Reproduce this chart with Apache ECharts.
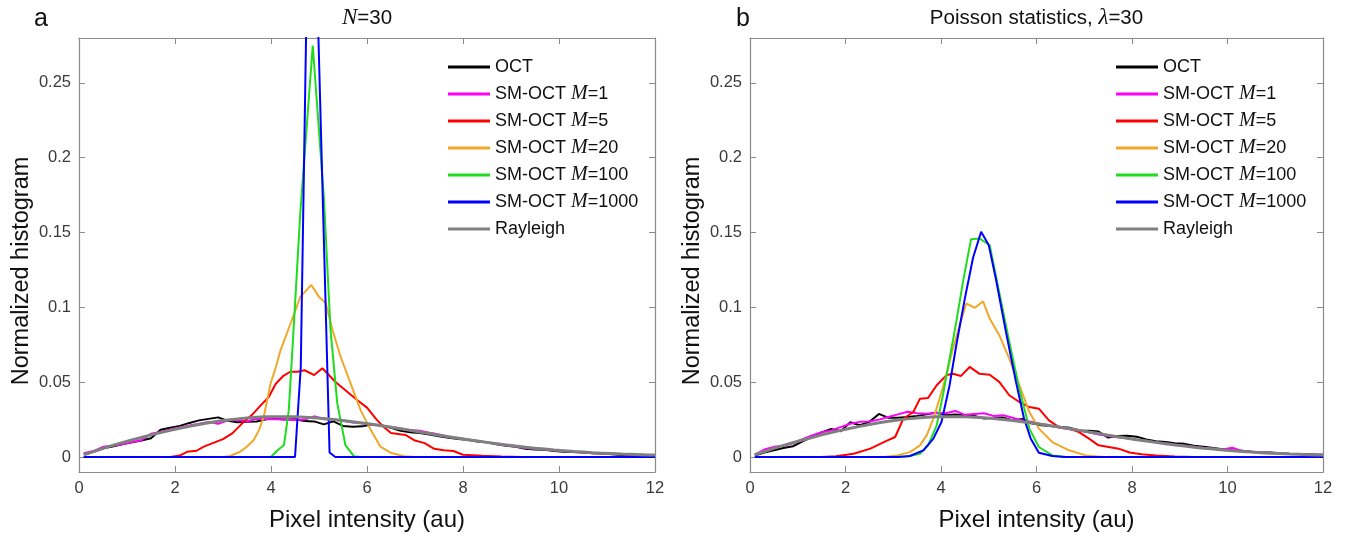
<!DOCTYPE html>
<html><head><meta charset="utf-8">
<script src="https://cdn.jsdelivr.net/npm/echarts@6/dist/echarts.min.js"></script>
<style>html,body{margin:0;padding:0;background:#fff}#c{width:1347px;height:540px}</style>
</head><body><div id="c"></div>
<script>
const seriesNames = ['OCT','SM-OCT M=1','SM-OCT M=5','SM-OCT M=20','SM-OCT M=100','SM-OCT M=1000','Rayleigh'];
const colors = ['#000000','#ff00ff','#ff0000','#f0a82c','#1fdc1f','#0000ff','#808080'];
const yTicks = [0,0.05,0.1,0.15,0.2,0.25];
const panelTitles = ['{i|N}=30', 'Poisson statistics, {i|λ}=30'];
const panelLetters = ['a','b'];
const xAxisTitle = 'Pixel intensity (au)';
const yAxisTitle = 'Normalized histogram';

// shared bin positions for broad curves
const xs = [0.1,0.3,0.5,0.7,0.9,1.1,1.3,1.5,1.7,1.9,2.1,2.3,2.5,2.7,2.9,3.1,3.3,3.5,3.7,3.9,
  4.1,4.3,4.5,4.7,4.9,5.1,5.3,5.5,5.7,5.9,6.1,6.3,6.5,6.7,6.9,7.1,7.3,7.5,7.7,7.9,
  8.1,8.3,8.5,8.7,8.9,9.1,9.3,9.5,9.7,9.9,10.1,10.3,10.5,10.7,10.9,11.1,11.3,11.5,11.7,11.9,12.0];

const rayleigh = [0.0015,0.0036,0.0058,0.0078,0.0096,0.0114,0.0131,0.0148,0.0163,0.0178,
  0.0192,0.0205,0.0218,0.0229,0.0239,0.0248,0.0255,0.0261,0.0266,0.0269,
  0.0270,0.0270,0.0269,0.0266,0.0262,0.0257,0.0251,0.0244,0.0236,0.0228,
  0.0219,0.0209,0.0199,0.0189,0.0178,0.0167,0.0157,0.0146,0.0136,0.0126,
  0.0116,0.0107,0.0098,0.0089,0.0081,0.0073,0.0066,0.0059,0.0053,0.0047,
  0.0042,0.0037,0.0033,0.0029,0.0026,0.0023,0.0020,0.0018,0.0016,0.0014,0.0013];

// Panel a
const aOct = [0.002,0.0035,0.0058,0.007,0.0085,0.0098,0.011,0.0125,0.0182,0.0195,
  0.0208,0.0228,0.0245,0.0255,0.0265,0.0242,0.0232,0.0235,0.0238,0.0252,
  0.0255,0.0250,0.0252,0.0240,0.0238,0.0218,0.0238,0.0208,0.0202,0.0205,
  0.0218,0.0212,0.0195,0.0175,0.0165,0.0160,0.0150,0.0138,0.0128,0.0120,
  0.0115,0.0104,0.0098,0.0085,0.0075,0.0068,0.0055,0.0050,0.0048,0.0040,
  0.0036,0.0034,0.0030,0.0026,0.0024,0.0018,0.0014,0.0016,0.0015,0.0012,0.0012];
const aM1 = [0.0025,0.004,0.0068,0.0075,0.0085,0.0100,0.0112,0.0155,0.0168,0.0185,
  0.0198,0.0210,0.0222,0.0235,0.0222,0.0245,0.0248,0.0238,0.0256,0.0254,
  0.0252,0.0250,0.0248,0.0250,0.0272,0.0252,0.0250,0.0242,0.0230,0.0225,
  0.0215,0.0210,0.0200,0.0190,0.0180,0.0175,0.0162,0.0150,0.0135,0.0128,
  0.0118,0.0108,0.0098,0.0090,0.0080,0.0070,0.0060,0.0055,0.0052,0.0045,
  0.0040,0.0035,0.0030,0.0027,0.0022,0.0024,0.0018,0.0015,0.0014,0.0012,0.0012];
const aM5 = [[0.1,0],[1.9,0],[2.1,0.001],[2.25,0.0035],[2.45,0.0042],[2.6,0.007],[2.8,0.0095],[3.0,0.012],
  [3.2,0.016],[3.4,0.0225],[3.6,0.028],[3.8,0.035],[3.95,0.040],[4.1,0.049],[4.25,0.054],[4.4,0.057],
  [4.55,0.057],[4.7,0.058],[4.9,0.0548],[5.07,0.0593],[5.2,0.055],[5.35,0.050],[5.5,0.046],[5.65,0.042],
  [5.8,0.038],[6.0,0.033],[6.2,0.025],[6.35,0.020],[6.5,0.016],[6.8,0.0148],[7.0,0.011],[7.2,0.0093],
  [7.4,0.0055],[7.6,0.0045],[7.8,0.004],[8.0,0.0015],[8.4,0.0009],[8.8,0.0004],[9.2,0],[12,0]];
const aM20 = [[0.1,0],[3.0,0],[3.15,0.0007],[3.36,0.0036],[3.5,0.007],[3.64,0.0114],[3.75,0.018],[3.85,0.027],
  [3.99,0.049],[4.1,0.06],[4.2,0.0715],[4.41,0.0894],[4.61,0.107],[4.84,0.115],[5.0,0.107],[5.14,0.103],
  [5.28,0.085],[5.45,0.067],[5.66,0.049],[5.87,0.031],[6.08,0.018],[6.28,0.0069],[6.49,0.0029],[6.77,0.0005],
  [7.0,0],[12,0]];
const aM100 = [[0.1,0],[4.0,0],[4.12,0.004],[4.27,0.008],[4.37,0.031],[4.47,0.085],[4.61,0.163],[4.87,0.275],
  [5.1,0.174],[5.24,0.085],[5.38,0.036],[5.55,0.008],[5.73,0.0005],[5.85,0],[12,0]];
const aM1000 = [[0.1,0],[4.5,0],[4.62,0.06],[4.74,0.30],[4.86,0.44],[4.98,0.29],[5.1,0.147],[5.22,0.003],[5.34,0],[12,0]];

// Panel b
const bOct = [0.001,0.003,0.0045,0.006,0.0072,0.0105,0.0135,0.0165,0.0188,0.0172,
  0.0232,0.0212,0.0235,0.0288,0.0262,0.0262,0.0268,0.0275,0.0285,0.0298,
  0.0280,0.0285,0.0280,0.0275,0.0258,0.0262,0.0265,0.0245,0.0255,0.0225,
  0.0212,0.0208,0.0200,0.0195,0.0178,0.0175,0.0170,0.0130,0.0140,0.0142,
  0.0135,0.0118,0.0105,0.0100,0.0092,0.0088,0.0075,0.0068,0.0060,0.0052,
  0.0045,0.0042,0.0036,0.0032,0.0030,0.0025,0.0022,0.0020,0.0018,0.0016,0.0016];
const bM1 = [0.0016,0.005,0.0068,0.0075,0.0092,0.012,0.0145,0.0166,0.0178,0.0200,
  0.0222,0.0235,0.0238,0.0250,0.0268,0.0285,0.0302,0.0292,0.0290,0.0295,
  0.0292,0.0308,0.0282,0.0288,0.0292,0.0275,0.0280,0.0262,0.0245,0.0235,
  0.0220,0.0210,0.0195,0.0185,0.0175,0.0165,0.0150,0.0140,0.0132,0.0125,
  0.0115,0.0108,0.0098,0.0092,0.0082,0.0075,0.0068,0.0060,0.0055,0.0050,
  0.0062,0.0040,0.0035,0.0030,0.0028,0.0024,0.0021,0.0018,0.0017,0.0015,0.0015];
const bM5 = [[0.1,0],[1.5,0],[1.8,0.0005],[2.17,0.0022],[2.52,0.0056],[2.87,0.011],[3.04,0.0134],[3.21,0.0256],
  [3.42,0.0301],[3.56,0.039],[3.73,0.0395],[3.91,0.048],[4.11,0.0546],[4.25,0.0557],[4.42,0.0542],[4.6,0.0602],
  [4.8,0.0557],[5.02,0.055],[5.22,0.0502],[5.43,0.0413],[5.64,0.0368],[5.85,0.0334],[6.05,0.0323],[6.26,0.0245],
  [6.47,0.02],[6.68,0.019],[6.89,0.0167],[7.1,0.0123],[7.3,0.0078],[7.51,0.0067],[7.72,0.0056],[7.95,0.003],
  [8.2,0.0018],[8.5,0.001],[8.9,0.0003],[9.3,0],[12,0]];
const bM20 = [[0.1,0],[2.8,0],[3.08,0.0011],[3.35,0.0033],[3.56,0.0078],[3.7,0.0145],[3.84,0.0256],[3.97,0.039],
  [4.11,0.0546],[4.25,0.0725],[4.39,0.088],[4.53,0.1026],[4.71,0.0997],[4.88,0.104],[5.02,0.0925],[5.22,0.0814],
  [5.43,0.0658],[5.64,0.048],[5.85,0.0301],[6.05,0.019],[6.33,0.01],[6.68,0.0045],[7.03,0.0011],[7.4,0],[12,0]];
const bM100 = [[0.1,0],[3.0,0],[3.28,0.0004],[3.56,0.0022],[3.73,0.0078],[3.91,0.0212],[4.04,0.0413],[4.18,0.0658],
  [4.32,0.0903],[4.46,0.117],[4.63,0.1456],[4.81,0.146],[4.95,0.143],[5.02,0.1416],[5.22,0.11],[5.43,0.077],
  [5.64,0.0457],[5.85,0.019],[6.05,0.0067],[6.33,0.0011],[6.6,0],[12,0]];
const bM1000 = [[0.1,0],[3.1,0],[3.35,0.0007],[3.63,0.0045],[3.84,0.0123],[4.01,0.0234],[4.18,0.048],[4.32,0.0747],
  [4.5,0.106],[4.67,0.133],[4.84,0.1505],[5.0,0.1416],[5.15,0.119],[5.36,0.0836],[5.57,0.0502],[5.74,0.0256],
  [5.88,0.0123],[6.05,0.0029],[6.33,0.0007],[6.6,0],[12,0]];

const zip = ys => xs.map((x, i) => [x, ys[i]]);
const panels = [
  [zip(aOct), zip(aM1), aM5, aM20, aM100, aM1000, zip(rayleigh)],
  [zip(bOct), zip(bM1), bM5, bM20, bM100, bM1000, zip(rayleigh)]
];

const grids = [
  {left: 79, top: 38, width: 576, height: 434},
  {left: 750, top: 38, width: 573, height: 434}
];
const AX = '#8a8a8a', LBL = '#3a3a3a', FONT = 'Liberation Sans';

const xAxes = [], yAxes = [], series = [], graphics = [], legends = [];
grids.forEach((g, gi) => {
  const xBase = {gridIndex: gi, type: 'value', min: 0, max: 12, interval: 2,
    axisLine: {show: true, onZero: false, lineStyle: {color: AX, width: 1.2}},
    axisTick: {show: true, inside: true, length: 6, lineStyle: {color: AX}},
    splitLine: {show: false}};
  xAxes.push(Object.assign({}, xBase, {position: 'bottom',
    axisLabel: {fontSize: 16.5, color: LBL, fontFamily: FONT, margin: 8},
    name: xAxisTitle, nameLocation: 'middle', nameGap: 36,
    nameTextStyle: {fontSize: 24, color: '#111', fontFamily: FONT}}));
  xAxes.push(Object.assign({}, xBase, {position: 'top', axisLabel: {show: false}}));
  const yBase = {gridIndex: gi, type: 'value', min: -0.01, max: 0.28,
    axisLine: {show: true, onZero: false, lineStyle: {color: AX, width: 1.2}},
    axisTick: {show: true, inside: true, length: 6, customValues: yTicks, lineStyle: {color: AX}},
    splitLine: {show: false}};
  yAxes.push(Object.assign({}, yBase, {position: 'left',
    axisLabel: {fontSize: 16.5, color: LBL, fontFamily: FONT, margin: 8, customValues: yTicks,
      formatter: v => String(+v.toFixed(2))}}));
  yAxes.push(Object.assign({}, yBase, {position: 'right', axisLabel: {show: false, customValues: yTicks}}));

  panels[gi].forEach((d, si) => {
    series.push({type: 'line', name: seriesNames[si], xAxisIndex: gi * 2, yAxisIndex: gi * 2,
      data: d, showSymbol: false, symbol: 'none', clip: true, animation: false, silent: true,
      itemStyle: {color: colors[si]},
      lineStyle: {color: colors[si], width: si === 6 ? 3 : 2}});
  });

  graphics.push({type: 'text', x: gi === 0 ? 34 : 736, y: 19,
    style: {text: panelLetters[gi], fontSize: 25, fontFamily: FONT, fill: '#111', verticalAlign: 'middle'}});
  graphics.push({type: 'text', x: g.left + g.width / 2, y: 18,
    style: {text: panelTitles[gi], fontSize: 20.5, fontFamily: FONT, fill: '#111', align: 'center', verticalAlign: 'middle',
      rich: {i: {fontSize: 23, fontStyle: 'italic', fontFamily: 'Liberation Serif', fill: '#111'}}}});
  graphics.push({type: 'text', x: g.left - 57, y: 271, rotation: Math.PI / 2,
    style: {text: yAxisTitle, fontSize: 23.5, fontFamily: FONT, fill: '#111', align: 'center', verticalAlign: 'middle'}});

  legends.push({data: seriesNames, orient: 'vertical', left: gi === 0 ? 443 : 1111, top: 52,
    itemWidth: 42, itemHeight: 3, itemGap: 7, icon: 'rect', selectedMode: false,
    formatter: n => n.replace('M=', '{i|M}='),
    textStyle: {fontSize: 18, fontFamily: FONT, color: '#111', lineHeight: 20,
      rich: {i: {fontSize: 20, fontStyle: 'italic', fontFamily: 'Liberation Serif', color: '#111', lineHeight: 20}}}});
});

const chart = echarts.init(document.getElementById('c'), null, {renderer: 'canvas'});
chart.setOption({
  backgroundColor: '#fff',
  animation: false,
  color: colors,
  grid: grids,
  xAxis: xAxes,
  yAxis: yAxes,
  legend: legends,
  graphic: graphics,
  series: series
});
</script>
</body></html>
